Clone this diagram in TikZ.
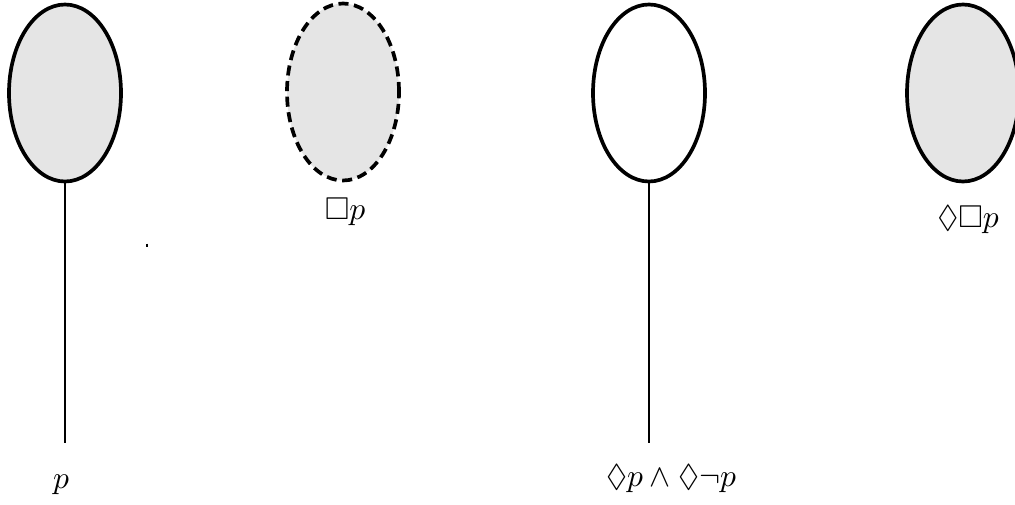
\documentclass[tikz,border=0pt]{standalone}
\usepackage{amssymb}
\usetikzlibrary{shapes.geometric}
\begin{document}
\begin{tikzpicture}[x=0.339pt,y=-0.339pt,
  world/.style={ellipse,draw=black,line width=1.25pt,minimum width=112*0.339pt,minimum height=177*0.339pt,inner sep=0pt},
  lbl/.style={inner sep=0pt,anchor=center},
  stem/.style={line width=0.9pt}]
\useasboundingbox (0,0) rectangle (1015,504);
\node[world,fill=black!10] (w1) at (65,93) {};
\node[world,fill=black!10,dash pattern=on 3.4pt off 1.9pt] (w2) at (343,92) {};
\node[world,fill=white] (w3) at (649,93) {};
\node[world,fill=black!10] (w4) at (963,93) {};
\coordinate (e1) at (65,443);
\coordinate (e3) at (649,443);
\draw[stem] (w1.south) -- (e1);
\draw[stem] (w3.south) -- (e3);
\node[lbl] (l1) at (61,485) {\scalebox{1.07}{$p$}};
\node[lbl] (l2) at (345,212) {\scalebox{1.07}{$\Box p$}};
\node[lbl] (l3) at (671,479) {\scalebox{1.07}{$\Diamond p \wedge \Diamond\neg p$}};
\node[lbl] (l4) at (968,220) {\scalebox{1.07}{$\Diamond\Box p$}};
\coordinate (t1) at (147,243.5);
\coordinate (t2) at (147,246.5);
\draw[line width=0.35pt] (t1) -- (t2);
\end{tikzpicture}
\end{document}
